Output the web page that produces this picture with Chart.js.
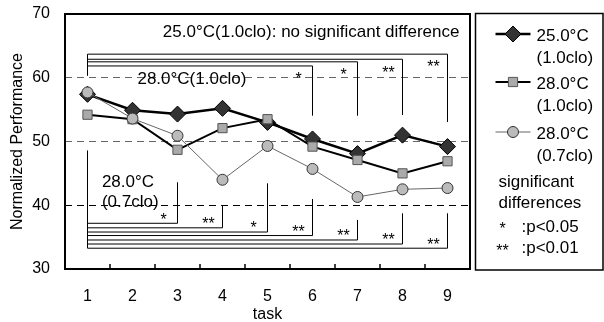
<!DOCTYPE html>
<html><head><meta charset="utf-8">
<script src="https://cdn.jsdelivr.net/npm/chart.js@4/dist/chart.umd.min.js"></script>
<style>html,body{margin:0;padding:0;background:#fff}#wrap{width:604px;height:322px}</style>
</head><body><div id="wrap"><canvas id="c" width="604" height="322"></canvas></div>
<script>
// ---- data ----
const tasks = ['1','2','3','4','5','6','7','8','9'];
const seriesNames = [['25.0°C','(1.0clo)'], ['28.0°C','(1.0clo)'], ['28.0°C','(0.7clo)']];
const perf25_10 = [57.4, 54.9, 54.3, 55.2, 53.0, 50.4, 48.1, 51.0, 49.2];
const perf28_10 = [54.2, 53.5, 48.7, 52.1, 53.5, 49.2, 47.1, 45.0, 46.9];
const perf28_07 = [57.7, 53.6, 50.9, 44.0, 49.3, 45.7, 41.3, 42.5, 42.7];
const yTicks = [30, 40, 50, 60, 70];

// significance brackets: 28.0°C(1.0clo) vs 25.0°C(1.0clo)
const sigA_span = [63.7, 60.3];
const sigA_tasks = [6, 7, 8, 9];
const sigA_marks = ['*', '*', '**', '**'];
const sigA_levels = [61.85, 62.5, 62.9, 63.7];
const sigA_ends = [54.05, 54.05, 54.15, 53.05];
// significance brackets: 28.0°C(0.7clo) vs 25.0°C(1.0clo)
const sigB_span = [48.6, 33.26];
const sigB_tasks = [3, 4, 5, 6, 7, 8, 9];
const sigB_marks = ['*', '**', '*', '**', '**', '**', '**'];
const sigB_levels = [37.17, 36.46, 35.8, 35.25, 34.55, 33.92, 33.26];
const sigB_ends = [43.6, 39.9, 43.44, 40.98, 37.7, 38.74, 38.74];

const noteTop = '25.0°C(1.0clo): no significant difference';
const noteA = '28.0°C(1.0clo)';
const noteB = ['28.0°C', '(0.7clo)'];
const legendNotes = ['significant', 'differences'];
const legendSig = [['*', ':p<0.05'], ['**', ':p<0.01']];

const FONT = '"Liberation Sans", Arial, Helvetica, sans-serif';

function xAt(chart, v) {
  const s = chart.scales.x;
  const p0 = s.getPixelForValue(0), p1 = s.getPixelForValue(1);
  return p0 + v * (p1 - p0);
}
function yAt(chart, v) { return chart.scales.y.getPixelForValue(v); }

function drawBrackets(ctx, chart, span, tks, levels, ends, marks, starDy) {
  const x1 = xAt(chart, 0);
  ctx.save();
  ctx.strokeStyle = '#000'; ctx.lineWidth = 1;
  ctx.beginPath(); ctx.moveTo(x1, yAt(chart, span[0])); ctx.lineTo(x1, yAt(chart, span[1])); ctx.stroke();
  ctx.font = '16px ' + FONT; ctx.fillStyle = '#000'; ctx.textAlign = 'center'; ctx.textBaseline = 'alphabetic';
  tks.forEach((t, i) => {
    const xt = xAt(chart, t - 1);
    const yl = yAt(chart, levels[i]);
    ctx.beginPath(); ctx.moveTo(x1, yl); ctx.lineTo(xt, yl); ctx.lineTo(xt, yAt(chart, ends[i])); ctx.stroke();
    ctx.fillText(marks[i], xt - 14, yl + starDy + 9.3);
  });
  ctx.restore();
}

function pointMark(ctx, ds, x, y) {
  ctx.save();
  ctx.fillStyle = ds.pointBackgroundColor; ctx.strokeStyle = ds.pointBorderColor; ctx.lineWidth = ds.pointBorderWidth;
  if (Chart.helpers && Chart.helpers.drawPoint) {
    Chart.helpers.drawPoint(ctx, {pointStyle: ds.pointStyle, radius: ds.pointRadius, borderWidth: ds.pointBorderWidth, rotation: 0}, x, y);
  } else {
    ctx.beginPath(); ctx.arc(x, y, ds.pointRadius, 0, Math.PI * 2); ctx.fill(); ctx.stroke();
  }
  ctx.restore();
}

const annot = {
  id: 'annot',
  beforeDatasetsDraw(chart) {
    const ctx = chart.ctx;
    drawBrackets(ctx, chart, sigA_span, sigA_tasks, sigA_levels, sigA_ends, sigA_marks, 9);
    drawBrackets(ctx, chart, sigB_span, sigB_tasks, sigB_levels, sigB_ends, sigB_marks, -8);
    ctx.save();
    ctx.fillStyle = '#000'; ctx.font = '17px ' + FONT; ctx.textBaseline = 'alphabetic';
    ctx.textAlign = 'center';
    ctx.fillText(noteTop, xAt(chart, 4.97), yAt(chart, 66.4));
    ctx.textAlign = 'left';
    ctx.fillText(noteA, xAt(chart, 1.11), yAt(chart, 59.0));
    ctx.fillText(noteB[0], xAt(chart, 0.32), yAt(chart, 42.86));
    ctx.fillText(noteB[1], xAt(chart, 0.32), yAt(chart, 39.7));
    ctx.restore();
  },
  afterDraw(chart) {
    const ctx = chart.ctx, a = chart.chartArea;
    ctx.save();
    // inner ticks on x axis at category boundaries
    ctx.strokeStyle = '#000'; ctx.lineWidth = 1.5;
    for (let i = 0; i < tasks.length - 1; i++) {
      const x = (xAt(chart, i) + xAt(chart, i + 1)) / 2;
      ctx.beginPath(); ctx.moveTo(x, a.bottom); ctx.lineTo(x, a.bottom - 5); ctx.stroke();
    }
    // frame
    ctx.lineWidth = 2;
    ctx.strokeRect(a.left, a.top, a.right - a.left, a.bottom - a.top);
    // legend box
    const lx = a.right + 5.5, ly = a.top - 0.5, lw = chart.width - 1 - lx, lh = a.bottom + 1 - ly;
    ctx.lineWidth = 1.5; ctx.strokeStyle = '#000';
    ctx.strokeRect(lx, ly, lw, lh);
    const rowY = [34, 82, 132];
    ctx.font = '17px ' + FONT; ctx.fillStyle = '#000'; ctx.textBaseline = 'middle'; ctx.textAlign = 'left';
    chart.data.datasets.forEach((ds, i) => {
      const y = rowY[i];
      ctx.strokeStyle = ds.borderColor; ctx.lineWidth = ds.borderWidth;
      ctx.beginPath(); ctx.moveTo(lx + 20, y); ctx.lineTo(lx + 55, y); ctx.stroke();
      pointMark(ctx, ds, lx + 37.5, y);
      ctx.fillStyle = '#000';
      ctx.fillText(seriesNames[i][0], lx + 61, y + 2);
      ctx.fillText(seriesNames[i][1], lx + 61, y + 24);
    });
    ctx.fillText(legendNotes[0], lx + 23, 182);
    ctx.fillText(legendNotes[1], lx + 23, 203);
    ctx.font = '16px ' + FONT; ctx.textAlign = 'center';
    ctx.fillText(legendSig[0][0], lx + 27, 230);
    ctx.fillText(legendSig[1][0], lx + 27, 252);
    ctx.font = '17px ' + FONT; ctx.textAlign = 'left';
    ctx.fillText(legendSig[0][1], lx + 46, 227);
    ctx.fillText(legendSig[1][1], lx + 46, 248);
    ctx.restore();
  }
};

new Chart(document.getElementById('c'), {
  type: 'line',
  data: {
    labels: tasks,
    datasets: [
      {label: seriesNames[0].join(''), data: perf25_10, borderColor: '#000', borderWidth: 2.5,
       pointStyle: 'rectRot', pointRadius: 8, pointBackgroundColor: '#333', pointBorderColor: '#000', pointBorderWidth: 1, order: 3, tension: 0},
      {label: seriesNames[1].join(''), data: perf28_10, borderColor: '#000', borderWidth: 2,
       pointStyle: 'rect', pointRadius: 6.5, pointBackgroundColor: '#aaa', pointBorderColor: '#555', pointBorderWidth: 1, order: 2, tension: 0},
      {label: seriesNames[2].join(''), data: perf28_07, borderColor: '#666', borderWidth: 1,
       pointStyle: 'circle', pointRadius: 5.5, pointBackgroundColor: '#bbb', pointBorderColor: '#333', pointBorderWidth: 1, order: 1, tension: 0}
    ]
  },
  options: {
    responsive: false, animation: false, devicePixelRatio: 1,
    layout: {padding: {left: 0, top: 14, right: 134, bottom: 0}},
    plugins: {legend: {display: false}, tooltip: {enabled: false}},
    scales: {
      x: {
        offset: true,
        grid: {display: false, drawTicks: false},
        border: {display: false},
        ticks: {font: {size: 16, family: FONT}, color: '#000', padding: 18},
        title: {display: true, text: 'task', font: {size: 16, family: FONT}, color: '#000', padding: {top: 0, bottom: -2}},
        afterFit(s) { s.height = 53; s.paddingLeft = 0; s.paddingRight = 0; }
      },
      y: {
        min: 30, max: 70,
        afterBuildTicks(s) { s.ticks = yTicks.map(v => ({value: v})); },
        ticks: {font: {size: 16, family: FONT}, color: '#000', padding: 15},
        grid: {drawTicks: false, lineWidth: 1,
          color(c) { const v = c.tick && c.tick.value; return v === 40 ? '#000' : (v === 50 || v === 60) ? '#666' : 'rgba(0,0,0,0)'; }},
        border: {display: false, dash: [7, 5]},
        title: {display: true, text: 'Normalized Performance', font: {size: 16, family: FONT}, color: '#000', padding: {top: 8, bottom: 0}},
        afterFit(s) { s.width = 65; s.paddingTop = 0; s.paddingBottom = 0; }
      }
    }
  },
  plugins: [annot]
});
</script>
</body></html>
